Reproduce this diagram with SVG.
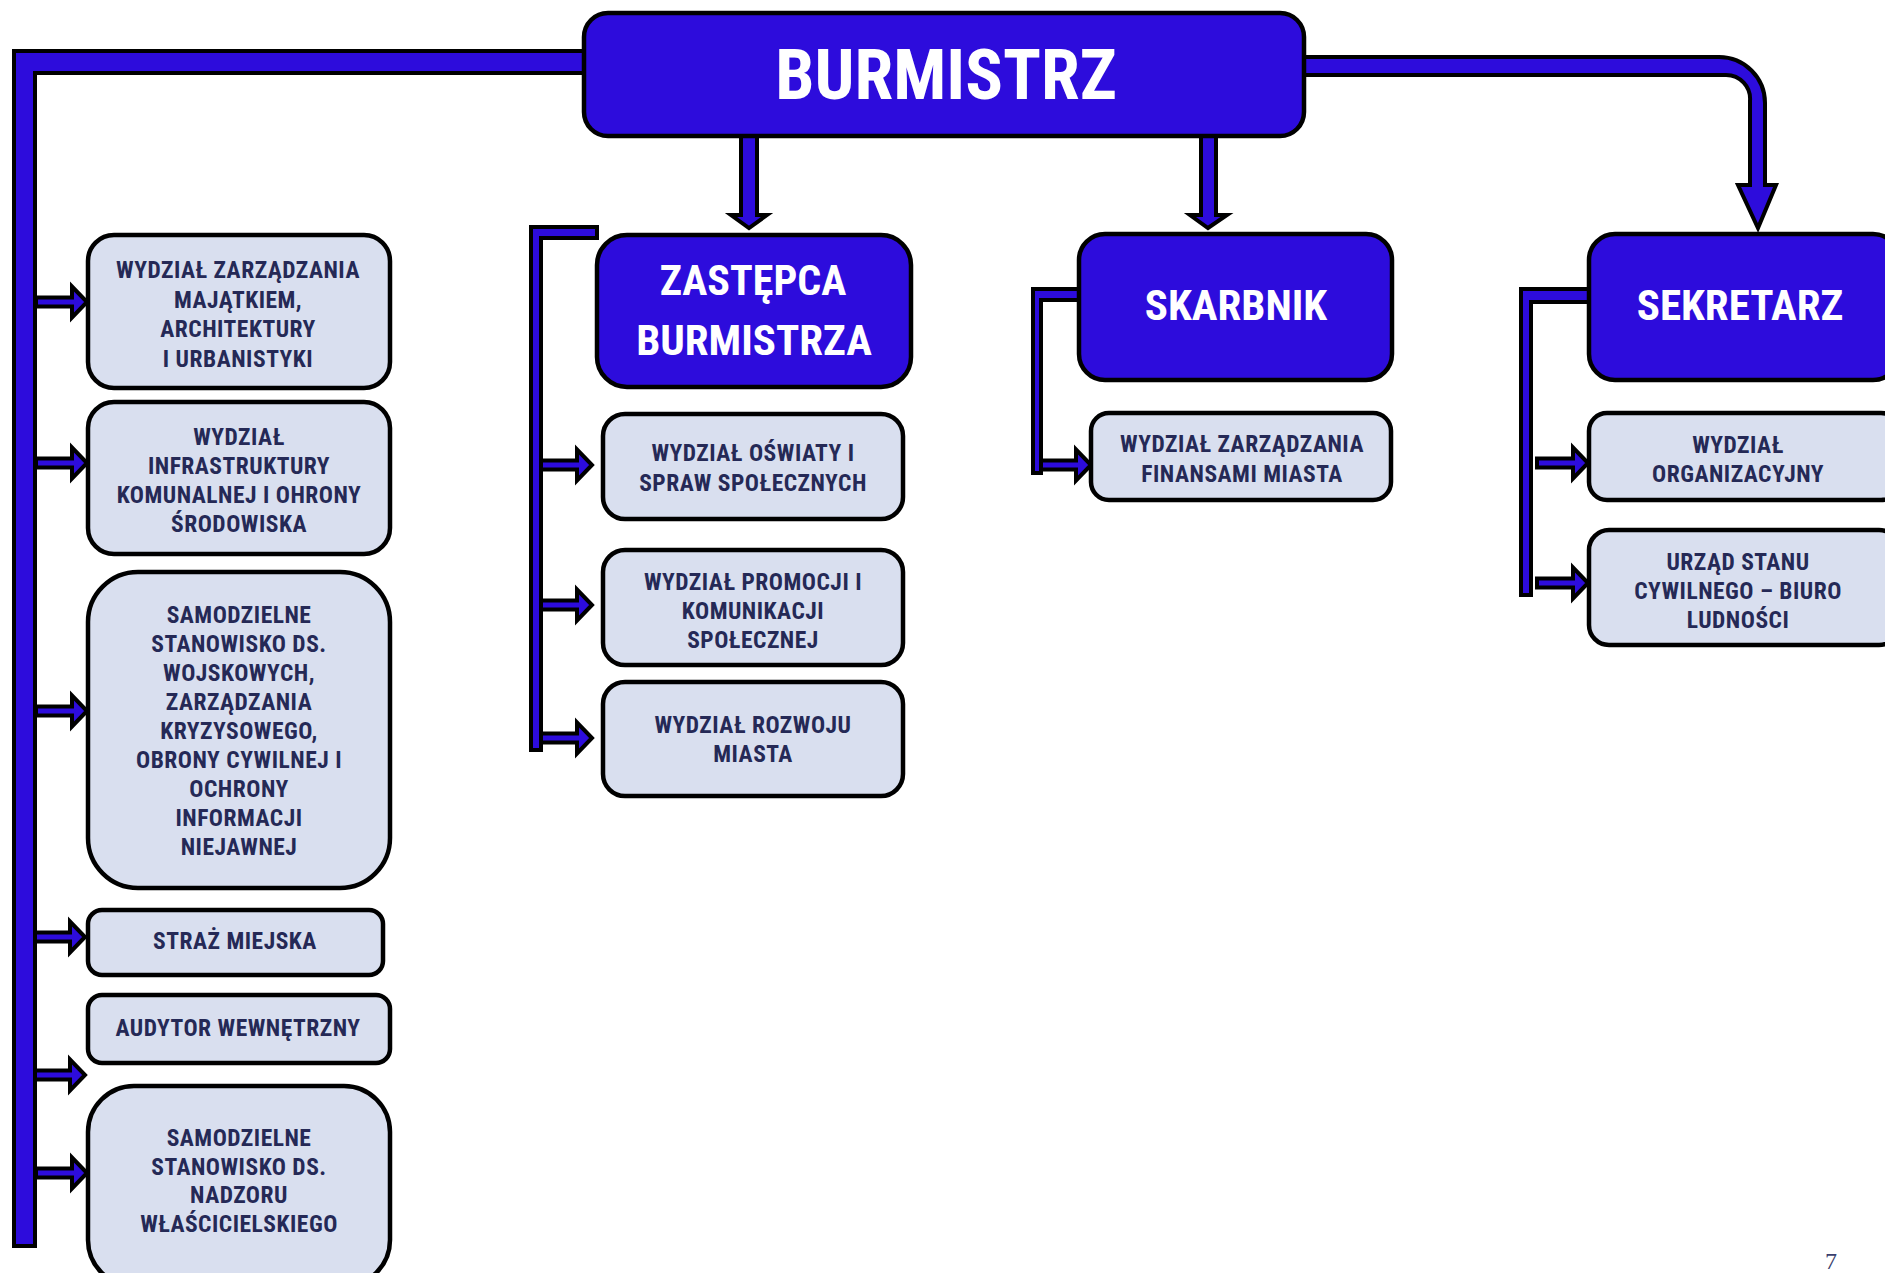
<svg xmlns="http://www.w3.org/2000/svg" width="1885" height="1273" viewBox="0 0 1885 1273">
<style>
.bg{fill:#ffffff}
.hd{fill:#2D0CDC;stroke:#000;stroke-width:4.5}
.bx{fill:#D9DFEF;stroke:#000;stroke-width:4.5}
.cn{fill:#2D0CDC;stroke:#000;stroke-width:4;stroke-linejoin:miter}
.t{font-family:"Liberation Sans Narrow","Arial Narrow","Roboto Condensed","DejaVu Sans Condensed",sans-serif;font-stretch:condensed;font-weight:700;text-anchor:middle}
.h{fill:#ffffff;font-size:43px}
.s{fill:#252956;font-size:23.5px;letter-spacing:0.5px}
.pg{font-family:"Liberation Serif",serif;font-size:24px;fill:#3a3f6e;text-anchor:middle}
</style>
<defs>
<path id="ar" d="M0,-4.5 H36 V-15.5 L51,0 L36,15.5 V4.5 H0 Z"/>
</defs>
<rect class="bg" x="0" y="0" width="1885" height="1273"/>
<g id="connectors">
<use href="#ar" class="cn" x="36" y="302"/>
<use href="#ar" class="cn" x="36" y="463"/>
<use href="#ar" class="cn" x="36" y="711"/>
<use href="#ar" class="cn" x="34" y="937"/>
<use href="#ar" class="cn" x="34" y="1075"/>
<use href="#ar" class="cn" x="36" y="1173"/>
<polygon class="cn" points="14,51 600,51 600,73 35,73 35,1246 14,1246"/>
<polygon class="cn" points="741,120 757,120 757,215 767,215 749,228 731,215 741,215"/>
<polygon class="cn" points="1201,120 1216,120 1216,215 1227,215 1208,228 1190,215 1201,215"/>
<path class="cn" d="M1290,57 H1719 A46,46 0 0 1 1765,103 V185 H1776 L1758,228 L1738,185 H1750 V101 A24,24 0 0 0 1726,75 H1290 Z"/>
<use href="#ar" class="cn" x="541" y="465"/>
<use href="#ar" class="cn" x="541" y="605"/>
<use href="#ar" class="cn" x="541" y="738"/>
<polygon class="cn" points="531,227 597,227 597,238 541,238 541,750 531,750"/>
<use href="#ar" class="cn" x="1040" y="465"/>
<polygon class="cn" points="1033,289 1082,289 1082,300 1041,300 1041,473 1033,473"/>
<use href="#ar" class="cn" x="1537" y="463"/>
<use href="#ar" class="cn" x="1537" y="583"/>
<polygon class="cn" points="1521,289 1590,289 1590,302 1531,302 1531,595 1521,595"/>
</g>
<g id="burmistrz">
<rect class="hd" x="584" y="13" width="720" height="123" rx="24"/>
<text class="t" x="946" y="99" style="fill:#fff;font-size:70px">BURMISTRZ</text>
</g>
<g id="zastepca">
<rect class="hd" x="597" y="235" width="314" height="152" rx="30"/>
<text class="t h" x="753" y="295" style="font-size:42px">ZASTĘPCA</text>
<text class="t h" x="754" y="355">BURMISTRZA</text>
</g>
<g id="skarbnik">
<rect class="hd" x="1079" y="234" width="313" height="146" rx="26"/>
<text class="t h" x="1236" y="320">SKARBNIK</text>
</g>
<g id="sekretarz">
<rect class="hd" x="1589" y="234" width="310" height="146" rx="26"/>
<text class="t h" x="1740" y="320">SEKRETARZ</text>
</g>
<g id="w-majatek">
<rect class="bx" x="88" y="235" width="302" height="153" rx="26"/>
<text class="t s" x="238" y="278">WYDZIAŁ ZARZĄDZANIA</text>
<text class="t s" x="238" y="308">MAJĄTKIEM,</text>
<text class="t s" x="238" y="337">ARCHITEKTURY</text>
<text class="t s" x="238" y="367">I URBANISTYKI</text>
</g>
<g id="w-infrastruktura">
<rect class="bx" x="88" y="402" width="302" height="152" rx="26"/>
<text class="t s" x="239" y="445">WYDZIAŁ</text>
<text class="t s" x="239" y="474">INFRASTRUKTURY</text>
<text class="t s" x="239" y="503">KOMUNALNEJ I OHRONY</text>
<text class="t s" x="239" y="532">ŚRODOWISKA</text>
</g>
<g id="s-wojskowe">
<rect class="bx" x="88" y="572" width="302" height="316" rx="50"/>
<text class="t s" x="239" y="623">SAMODZIELNE</text>
<text class="t s" x="239" y="652">STANOWISKO DS.</text>
<text class="t s" x="239" y="681">WOJSKOWYCH,</text>
<text class="t s" x="239" y="710">ZARZĄDZANIA</text>
<text class="t s" x="239" y="739">KRYZYSOWEGO,</text>
<text class="t s" x="239" y="768">OBRONY CYWILNEJ I</text>
<text class="t s" x="239" y="797">OCHRONY</text>
<text class="t s" x="239" y="826">INFORMACJI</text>
<text class="t s" x="239" y="855">NIEJAWNEJ</text>
</g>
<g id="straz">
<rect class="bx" x="88" y="910" width="295" height="65" rx="14"/>
<text class="t s" x="235" y="949">STRAŻ MIEJSKA</text>
</g>
<g id="audytor">
<rect class="bx" x="88" y="995" width="302" height="68" rx="14"/>
<text class="t s" x="238" y="1036">AUDYTOR WEWNĘTRZNY</text>
</g>
<g id="s-nadzor">
<rect class="bx" x="88" y="1086" width="302" height="200" rx="46"/>
<text class="t s" x="239" y="1146">SAMODZIELNE</text>
<text class="t s" x="239" y="1175">STANOWISKO DS.</text>
<text class="t s" x="239" y="1203">NADZORU</text>
<text class="t s" x="239" y="1232">WŁAŚCICIELSKIEGO</text>
</g>
<g id="w-oswiata">
<rect class="bx" x="603" y="414" width="300" height="105" rx="22"/>
<text class="t s" x="753" y="461">WYDZIAŁ OŚWIATY I</text>
<text class="t s" x="753" y="491">SPRAW SPOŁECZNYCH</text>
</g>
<g id="w-promocja">
<rect class="bx" x="603" y="550" width="300" height="115" rx="22"/>
<text class="t s" x="753" y="590">WYDZIAŁ PROMOCJI I</text>
<text class="t s" x="753" y="619">KOMUNIKACJI</text>
<text class="t s" x="753" y="648">SPOŁECZNEJ</text>
</g>
<g id="w-rozwoj">
<rect class="bx" x="603" y="682" width="300" height="114" rx="22"/>
<text class="t s" x="753" y="733">WYDZIAŁ ROZWOJU</text>
<text class="t s" x="753" y="762">MIASTA</text>
</g>
<g id="w-finanse">
<rect class="bx" x="1091" y="413" width="300" height="87" rx="18"/>
<text class="t s" x="1242" y="452">WYDZIAŁ ZARZĄDZANIA</text>
<text class="t s" x="1242" y="482">FINANSAMI MIASTA</text>
</g>
<g id="w-organizacyjny">
<rect class="bx" x="1589" y="413" width="310" height="87" rx="18"/>
<text class="t s" x="1738" y="453">WYDZIAŁ</text>
<text class="t s" x="1738" y="482">ORGANIZACYJNY</text>
</g>
<g id="usc">
<rect class="bx" x="1589" y="530" width="310" height="115" rx="20"/>
<text class="t s" x="1738" y="570">URZĄD STANU</text>
<text class="t s" x="1738" y="599">CYWILNEGO – BIURO</text>
<text class="t s" x="1738" y="628">LUDNOŚCI</text>
</g>
<text class="pg" x="1831" y="1269">7</text>
</svg>
